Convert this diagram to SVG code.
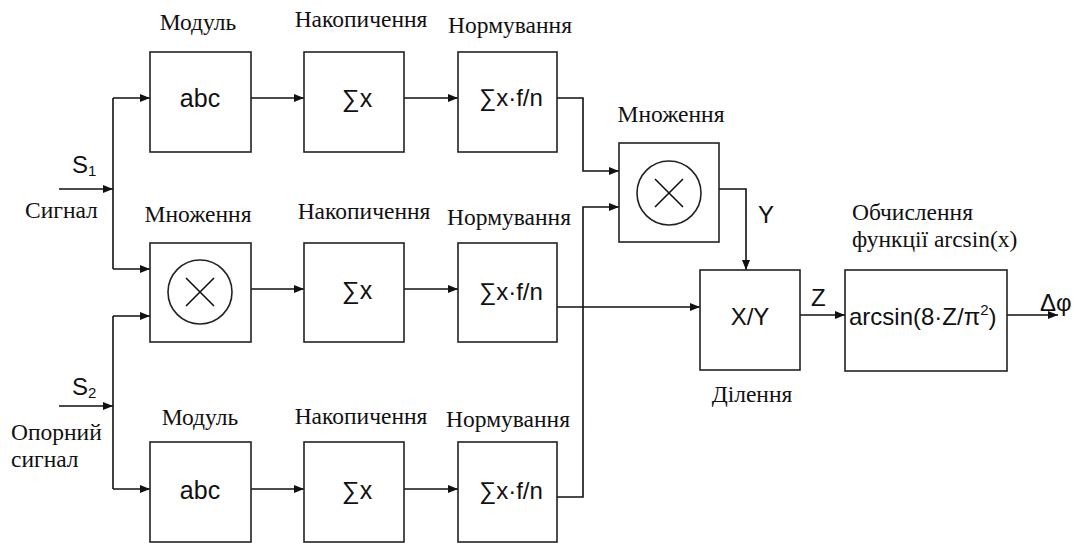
<svg xmlns="http://www.w3.org/2000/svg" width="1078" height="543" viewBox="0 0 1078 543">
<defs>
<marker id="ah" viewBox="0 0 10 8" refX="10" refY="4" markerWidth="10" markerHeight="8" markerUnits="userSpaceOnUse" orient="auto">
<path d="M0,0 L10,4 L0,8 Z" fill="#111"/>
</marker>
<style>
.box{fill:#fff;stroke:#222;stroke-width:1.6}
.ln{fill:none;stroke:#111;stroke-width:1.6}
.arr{fill:none;stroke:#111;stroke-width:1.6;marker-end:url(#ah)}
.sf{font-family:"Liberation Serif","Times New Roman",serif;font-size:23.5px;fill:#111}
.ss{font-family:"Liberation Sans",Arial,"DejaVu Sans",sans-serif;font-size:25px;fill:#111}
.ss2{font-family:"Liberation Sans",Arial,"DejaVu Sans",sans-serif;font-size:24px;fill:#111}
.mid{text-anchor:middle}
.circ{fill:none;stroke:#222;stroke-width:1.6}
</style>
</defs>
<rect width="1078" height="543" fill="#fff"/>

<g id="connectors">
<path class="arr" d="M59,189 H113"/>
<path class="ln" d="M113,98 V269"/>
<path class="arr" d="M113,98 H150"/>
<path class="arr" d="M113,269 H150"/>
<path class="arr" d="M59,406 H113"/>
<path class="ln" d="M113,316 V489"/>
<path class="arr" d="M113,316 H150"/>
<path class="arr" d="M113,489 H150"/>
<path class="arr" d="M251,98 H304"/>
<path class="arr" d="M404,98 H458"/>
<path class="arr" d="M251,289 H304"/>
<path class="arr" d="M404,289 H458"/>
<path class="arr" d="M251,489 H304"/>
<path class="arr" d="M404,489 H458"/>
<path class="arr" d="M557,98 H583 V171 H619"/>
<path class="arr" d="M557,497 H583 V207 H619"/>
<path class="arr" d="M557,307 H700"/>
<path class="arr" d="M719,189 H746 V270"/>
<path class="arr" d="M800,315 H845"/>
<path class="arr" d="M1007,315 H1058"/>
</g>

<g id="inputs">
<text class="ss2" x="72" y="173">S<tspan font-size="15" dy="3">1</tspan></text>
<text class="sf" x="25" y="218">Сигнал</text>
<text class="ss2" x="72" y="395">S<tspan font-size="15" dy="3">2</tspan></text>
<text class="sf" x="11" y="440">Опорний</text>
<text class="sf" x="11" y="467">сигнал</text>
</g>

<g id="abs1">
<text class="sf mid" x="198" y="30">Модуль</text>
<rect class="box" x="150" y="52" width="101" height="100"/>
<text class="ss mid" x="200" y="107">abc</text>
</g>
<g id="acc1">
<text class="sf mid" x="361" y="27">Накопичення</text>
<rect class="box" x="304" y="52" width="100" height="100"/>
<text class="ss mid" x="357" y="107">∑x</text>
</g>
<g id="norm1">
<text class="sf mid" x="510" y="33">Нормування</text>
<rect class="box" x="458" y="52" width="99" height="100"/>
<text class="ss2 mid" x="511" y="106">∑x·f/n</text>
</g>

<g id="mul2">
<text class="sf mid" x="198" y="222">Множення</text>
<rect class="box" x="150" y="243" width="101" height="99"/>
<circle class="circ" cx="200" cy="292" r="32"/>
<path class="ln" d="M186,278 L214,306 M214,278 L186,306"/>
</g>
<g id="acc2">
<text class="sf mid" x="364" y="219">Накопичення</text>
<rect class="box" x="304" y="243" width="100" height="99"/>
<text class="ss mid" x="357" y="299">∑x</text>
</g>
<g id="norm2">
<text class="sf mid" x="509" y="225">Нормування</text>
<rect class="box" x="458" y="243" width="99" height="99"/>
<text class="ss2 mid" x="511" y="300">∑x·f/n</text>
</g>

<g id="abs3">
<text class="sf mid" x="200" y="425">Модуль</text>
<rect class="box" x="150" y="442" width="101" height="100"/>
<text class="ss mid" x="200" y="499">abc</text>
</g>
<g id="acc3">
<text class="sf mid" x="361" y="424">Накопичення</text>
<rect class="box" x="304" y="442" width="100" height="100"/>
<text class="ss mid" x="357" y="499">∑x</text>
</g>
<g id="norm3">
<text class="sf mid" x="508" y="427">Нормування</text>
<rect class="box" x="458" y="442" width="99" height="100"/>
<text class="ss2 mid" x="511" y="499">∑x·f/n</text>
</g>

<g id="mulY">
<text class="sf mid" x="671" y="122">Множення</text>
<rect class="box" x="619" y="143" width="100" height="99"/>
<circle class="circ" cx="669" cy="193" r="32"/>
<path class="ln" d="M655,179 L683,207 M683,179 L655,207"/>
<text class="ss2" x="758" y="223">Y</text>
</g>

<g id="div">
<rect class="box" x="700" y="270" width="100" height="100"/>
<text class="ss2 mid" x="750" y="325">X/Y</text>
<text class="sf mid" x="752" y="402">Ділення</text>
<text class="ss2" x="811" y="306">Z</text>
</g>

<g id="arcsin">
<text class="sf" x="852" y="220">Обчислення</text>
<text class="sf" x="852" y="247">функції arcsin(x)</text>
<rect class="box" x="845" y="270" width="162" height="101"/>
<text class="ss2" x="849" y="325">arcsin(8·Z/π<tspan font-size="15" dy="-10">2</tspan><tspan dy="10">)</tspan></text>
<text class="ss2" x="1040" y="311">Δφ</text>
</g>
</svg>
